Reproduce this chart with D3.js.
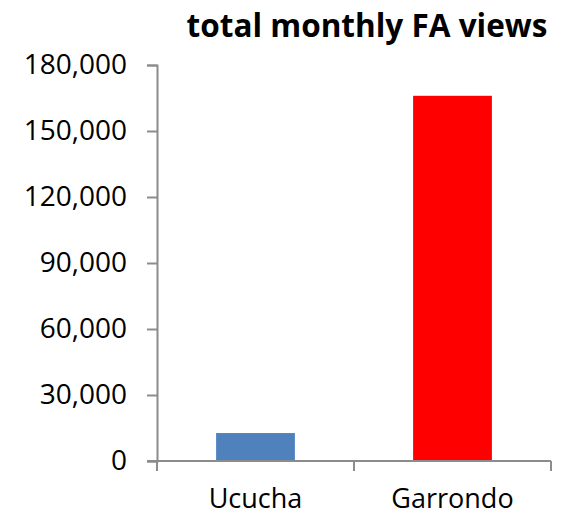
<!DOCTYPE html>
<html>
<head>
<meta charset="utf-8">
<script src="https://cdn.jsdelivr.net/npm/d3@7"></script>
<style>
  html, body { margin: 0; padding: 0; background: #fff; }
</style>
</head>
<body>
<div id="chart"></div>
<script>
// total monthly FA views — two bars
const CATEGORIES = ["Ucucha", "Garrondo"];
const VIEWS      = [12700, 166000];
const BAR_COLORS = ["#4F81BD", "#FF0000"];
const Y_TICKS    = [0, 30000, 60000, 90000, 120000, 150000, 180000];
const TITLE      = "total monthly FA views";

const W = 565, H = 515;
const margin = { top: 65, right: 14, bottom: 54, left: 157 };
const width  = W - margin.left - margin.right;
const height = H - margin.top - margin.bottom;
const FONT = "'Open Sans', sans-serif";
const AXIS = "#8C8C8C";

const svg = d3.select("#chart").append("svg")
  .attr("width", W).attr("height", H);
const g = svg.append("g")
  .attr("transform", `translate(${margin.left},${margin.top})`);

const x = d3.scaleBand().domain(CATEGORIES).range([0, width])
  .paddingInner(0.6).paddingOuter(0.3);
const y = d3.scaleLinear().domain([0, 180000]).range([height, 0]);

// Bars
g.selectAll(".bar").data(CATEGORIES).join("rect")
  .attr("class", "bar")
  .attr("x", d => x(d))
  .attr("width", x.bandwidth())
  .attr("y", (d, i) => y(VIEWS[i]))
  .attr("height", (d, i) => height - y(VIEWS[i]))
  .attr("fill", (d, i) => BAR_COLORS[i]);

// Y axis
const yAxis = g.append("g")
  .call(d3.axisLeft(y).tickValues(Y_TICKS).tickSize(10).tickPadding(20)
    .tickFormat(d3.format(",")));
yAxis.select(".domain").attr("stroke", AXIS).attr("stroke-width", 2);
yAxis.selectAll(".tick line").attr("stroke", AXIS).attr("stroke-width", 2);
yAxis.selectAll("text").attr("font-family", FONT).attr("font-size", "28px")
  .attr("fill", "#000");

// X axis — ticks at band edges
const edges = d3.range(CATEGORIES.length + 1).map(i => i * width / CATEGORIES.length);
const xAxis = g.append("g").attr("transform", `translate(0,${height})`);
xAxis.append("line").attr("x1", -10).attr("x2", width)
  .attr("stroke", AXIS).attr("stroke-width", 2);
xAxis.selectAll(".edge").data(edges).join("line")
  .attr("class", "edge")
  .attr("x1", d => d).attr("x2", d => d).attr("y1", 0).attr("y2", 10)
  .attr("stroke", AXIS).attr("stroke-width", 2);
xAxis.selectAll(".cat").data(CATEGORIES).join("text")
  .attr("class", "cat")
  .attr("x", d => x(d) + x.bandwidth() / 2)
  .attr("y", 47)
  .attr("text-anchor", "middle")
  .attr("font-family", FONT).attr("font-size", "27px").attr("fill", "#000")
  .text(d => d);

// Title
svg.append("text")
  .attr("x", 367).attr("y", 37)
  .attr("text-anchor", "middle")
  .attr("font-family", FONT).attr("font-weight", "bold")
  .attr("font-size", "31.5px").attr("fill", "#000")
  .text(TITLE);
</script>
</body>
</html>
